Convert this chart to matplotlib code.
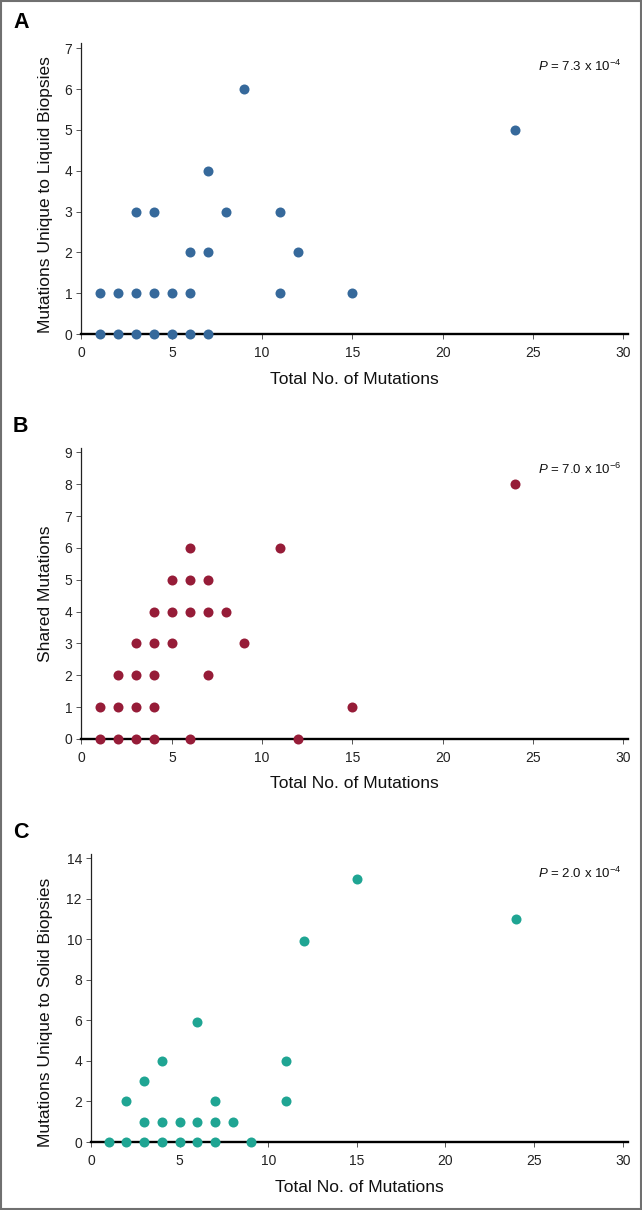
import matplotlib
matplotlib.use("Agg")
import matplotlib.pyplot as plt
from matplotlib import font_manager
from matplotlib.patches import Rectangle

# Panel A: mutations unique to liquid biopsies
a_total = [1, 2, 3, 4, 5, 6, 7, 1, 2, 3, 4, 5, 6, 11, 15, 6, 7, 12, 3, 4, 8, 11, 7, 24, 9]
a_unique = [0, 0, 0, 0, 0, 0, 0, 1, 1, 1, 1, 1, 1, 1, 1, 2, 2, 2, 3, 3, 3, 3, 4, 5, 6]

# Panel B: shared mutations
b_total = [1, 2, 3, 4, 6, 12, 1, 2, 3, 4, 15, 2, 3, 4, 7, 3, 4, 5, 9,
           4, 5, 6, 7, 8, 5, 6, 7, 6, 11, 24]
b_shared = [0, 0, 0, 0, 0, 0, 1, 1, 1, 1, 1, 2, 2, 2, 2, 3, 3, 3, 3,
            4, 4, 4, 4, 4, 5, 5, 5, 6, 6, 8]

# Panel C: mutations unique to solid biopsies
c_total = [1, 2, 3, 4, 5, 6, 7, 9, 3, 4, 5, 6, 7, 8, 2, 7, 11, 3, 4, 11, 6, 12, 15, 24]
c_unique = [0, 0, 0, 0, 0, 0, 0, 0, 1, 1, 1, 1, 1, 1, 2, 2, 2, 3, 4, 4, 5.9, 9.9, 13, 11]

xticks = [0, 5, 10, 15, 20, 25, 30]

names = {f.name for f in font_manager.fontManager.ttflist}
font = "Liberation Sans Narrow" if "Liberation Sans Narrow" in names else "Liberation Sans"
plt.rcParams["font.family"] = [font, "DejaVu Sans"]
plt.rcParams["mathtext.fontset"] = "custom"
plt.rcParams["mathtext.rm"] = font
plt.rcParams["mathtext.it"] = font + ":italic"

fig = plt.figure(figsize=(6.42, 12.10), dpi=100)
H = 1210.0
W = 642.0


def add_panel(left_px, right_px, top_px, bottom_px):
    return fig.add_axes([left_px / W, 1 - bottom_px / H,
                         (right_px - left_px) / W, (bottom_px - top_px) / H])


panels = [
    dict(x=a_total, y=a_unique, color="#36699b", ylabel="Mutations Unique to Liquid Biopsies",
         yticks=range(0, 8), ylim=7.13, box=(81.5, 628, 43, 334), xmax=30.25,
         ptext="7.3 x 10$^{-4}$", letter="A", letter_y=23, xlabel_y=379, ptext_y=66,
         ylabel_y=0.48),
    dict(x=b_total, y=b_shared, color="#961c38", ylabel="Shared Mutations",
         yticks=range(0, 10), ylim=9.14, box=(81.5, 628, 448, 739), xmax=30.25,
         ptext="7.0 x 10$^{-6}$", letter="B", letter_y=427, xlabel_y=783, ptext_y=469,
         ylabel_y=0.5),
    dict(x=c_total, y=c_unique, color="#1fa593", ylabel="Mutations Unique to Solid Biopsies",
         yticks=range(0, 15, 2), ylim=14.21, box=(91, 628, 854, 1142), xmax=30.3,
         ptext="2.0 x 10$^{-4}$", letter="C", letter_y=833, xlabel_y=1187, ptext_y=873,
         ylabel_y=0.45),
]

for p in panels:
    l, r, t, b = p["box"]
    ax = add_panel(l, r, t, b)
    ax.scatter(p["x"], p["y"], s=52, color=p["color"], clip_on=False, zorder=3, linewidths=0)
    ax.set_xlim(0, p["xmax"])
    ax.set_ylim(0, p["ylim"])
    ax.set_xticks(xticks)
    ax.set_yticks(list(p["yticks"]))
    ax.spines["top"].set_visible(False)
    ax.spines["right"].set_visible(False)
    ax.spines["bottom"].set_linewidth(1.7)
    ax.spines["bottom"].set_color("black")
    ax.spines["left"].set_linewidth(0.9)
    ax.spines["left"].set_color("#222222")
    ax.tick_params(axis="both", labelsize=10, length=3.5, width=0.7, colors="#555555",
                   labelcolor="#222222")
    ax.tick_params(axis="x", pad=5)
    ax.tick_params(axis="y", pad=3)
    ax.set_ylabel(p["ylabel"], fontsize=12.5, color="#111111")
    ax.yaxis.set_label_coords(-(l - 53) / (r - l), p["ylabel_y"])
    # x label placed in figure coordinates
    fig.text((l + r) / 2 / W, 1 - p["xlabel_y"] / H, "Total No. of Mutations",
             fontsize=12.5, color="#111111", ha="center", va="center")
    fig.text(13 / W, 1 - p["letter_y"] / H, p["letter"], fontsize=15.5, fontweight="bold",
             family=["Liberation Sans", "DejaVu Sans"], ha="left", va="center")
    fig.text(580 / W, 1 - p["ptext_y"] / H, "$\\it{P}$ = " + p["ptext"], fontsize=9.5,
             color="#111111", ha="center", va="center")

fig.patches.append(Rectangle((0.002, 0.001), 0.996, 0.998, transform=fig.transFigure,
                             fill=False, edgecolor="#707070", linewidth=1.5))

fig.savefig("out.png", dpi=100)
